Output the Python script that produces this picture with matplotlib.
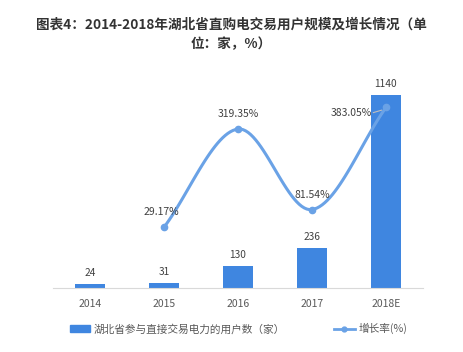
import numpy as np
import matplotlib
matplotlib.use('Agg')
import matplotlib.pyplot as plt
from matplotlib.lines import Line2D
from matplotlib.patches import Patch

plt.rcParams['font.family'] = ['Noto Sans CJK SC', 'DejaVu Sans']

# data
years = ['2014', '2015', '2016', '2017', '2018E']
users = [24, 31, 130, 236, 1140]
growth_years = ['2015', '2016', '2017', '2018E']
growth = [29.17, 319.35, 81.54, 383.05]

bar_color = '#3f86e0'
line_color = '#6aa2e6'
text_color = '#404040'

def smooth(xs, ys, n=30):
    # catmull-rom style smoothing between the points
    xs = np.asarray(xs, float)
    ys = np.asarray(ys, float)
    px = np.concatenate([[2*xs[0]-xs[1]], xs, [2*xs[-1]-xs[-2]]])
    py = np.concatenate([[2*ys[0]-ys[1]], ys, [2*ys[-1]-ys[-2]]])
    ox, oy = [], []
    for i in range(1, len(px)-2):
        t = np.linspace(0, 1, n)
        for p, o in ((px, ox), (py, oy)):
            p0, p1, p2, p3 = p[i-1], p[i], p[i+1], p[i+2]
            v = 0.5*((2*p1) + (-p0+p2)*t + (2*p0-5*p1+4*p2-p3)*t**2 + (-p0+3*p1-3*p2+p3)*t**3)
            o.extend(v)
    return np.array(ox), np.array(oy)

fig = plt.figure(figsize=(4.63, 3.52), dpi=100)
ax = fig.add_axes([0.1145, 0.182, 0.799, 0.577])
x = np.arange(len(years))
ax.bar(x, users, width=0.4, color=bar_color, zorder=2)
for xi, v in zip(x, users):
    ax.text(xi, v + 35, str(v), ha='center', va='bottom', fontsize=7.3, color=text_color)
ax.set_ylim(0, 1200)
ax.set_xlim(-0.5, len(years)-0.5)
ax.set_xticks(x)
ax.set_xticklabels(years, fontsize=7.5, color='#595959')
ax.tick_params(axis='x', length=0, pad=8)
ax.set_yticks([])
for s in ['top', 'left', 'right']:
    ax.spines[s].set_visible(False)
ax.spines['bottom'].set_color('#d9d9d9')

ax2 = ax.twinx()
gx = np.array([years.index(y) for y in growth_years])
sx, sy = smooth(gx, growth)
ax2.plot(sx, sy, color=line_color, lw=2.2, zorder=3)
ax2.plot(gx, growth, 'o', color=line_color, ms=4.5, zorder=4)
ax2.set_ylim(-150, 450)
ax2.set_yticks([])
for s in ['top', 'left', 'right', 'bottom']:
    ax2.spines[s].set_visible(False)

offsets = [(-0.03, 30, 'center', 'bottom'), (0, 30, 'center', 'bottom'),
           (0, 28, 'center', 'bottom'), (-0.19, -15, 'right', 'center')]
for xi, v, (dx, dy, ha, va) in zip(gx, growth, offsets):
    ax2.text(xi + dx, v + dy, '%.2f%%' % v, ha=ha, va=va, fontsize=7.5, color=text_color)
# short leader line for the last label
ax2.plot([gx[-1] - 0.17, gx[-1] - 0.06], [growth[-1] - 15, growth[-1] - 8],
         color='#bfbfbf', lw=0.8, zorder=2)

fig.text(0.5, 0.93, '图表4：2014-2018年湖北省直购电交易用户规模及增长情况（单',
         ha='center', va='center', fontsize=9.8, fontweight='bold', color='#333333')
fig.text(0.5, 0.875, '位：家，%）', ha='center', va='center', fontsize=9.8,
         fontweight='bold', color='#333333')

handles = [Patch(color=bar_color), Line2D([0], [0], color=line_color, lw=2, marker='o', ms=3.5)]
labels = ['湖北省参与直接交易电力的用户数（家）', '增长率(%)']
fig.legend(handles, labels, loc='center', bbox_to_anchor=(0.515, 0.066), ncol=2,
           frameon=False, fontsize=7.7, handlelength=1.9, handletextpad=0.35,
           columnspacing=4.6, labelcolor='#595959')

fig.savefig('out.png', dpi=100)
